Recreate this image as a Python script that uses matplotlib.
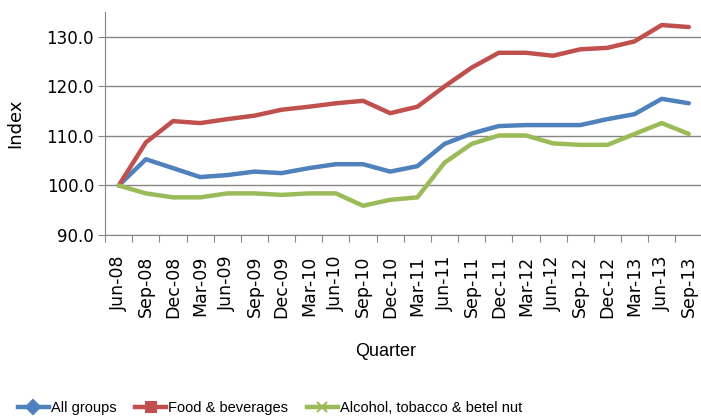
import matplotlib
matplotlib.use('Agg')
import matplotlib.pyplot as plt
from matplotlib.lines import Line2D
from matplotlib.ticker import FixedLocator, NullFormatter
import numpy as np

quarters = ['Jun-08', 'Sep-08', 'Dec-08', 'Mar-09', 'Jun-09', 'Sep-09', 'Dec-09', 'Mar-10',
            'Jun-10', 'Sep-10', 'Dec-10', 'Mar-11', 'Jun-11', 'Sep-11', 'Dec-11', 'Mar-12',
            'Jun-12', 'Sep-12', 'Dec-12', 'Mar-13', 'Jun-13', 'Sep-13']
all_groups = [100.0, 105.3, 103.5, 101.7, 102.1, 102.8, 102.5, 103.5, 104.3, 104.3, 102.8,
              103.9, 108.4, 110.5, 112.0, 112.2, 112.2, 112.2, 113.4, 114.4, 117.5, 116.6]
food_bev = [100.0, 108.7, 113.0, 112.6, 113.4, 114.1, 115.3, 115.9, 116.6, 117.1, 114.6,
            115.9, 120.0, 123.8, 126.8, 126.8, 126.2, 127.5, 127.8, 129.1, 132.4, 132.0]
alcohol = [100.0, 98.4, 97.6, 97.6, 98.4, 98.4, 98.1, 98.4, 98.4, 95.9, 97.1,
           97.6, 104.6, 108.4, 110.1, 110.1, 108.5, 108.2, 108.2, 110.4, 112.6, 110.4]
labels = ['All groups', 'Food & beverages', 'Alcohol, tobacco & betel nut']
colors = ['#4F81BD', '#C0504D', '#9BBB59']
markers = ['D', 's', 'x']

narrow = 'Liberation Sans'

fig = plt.figure(figsize=(7.01, 4.2), dpi=100)
ax = fig.add_axes([0.15, 0.4405, 0.852, 0.5305])

for vals, c in zip([all_groups, food_bev, alcohol], colors):
    ax.plot(quarters, vals, color=c, lw=3.2, solid_capstyle='round', zorder=3)

ax.set_xlim(-0.5, len(quarters) - 0.5)
ax.set_ylim(90, 135)
ax.set_yticks([90, 100, 110, 120, 130])
ax.set_yticklabels(['%.1f' % v for v in [90, 100, 110, 120, 130]], fontsize=12)
ax.yaxis.grid(True, color='#868686', lw=1)
ax.set_axisbelow(True)

ax.xaxis.set_major_locator(FixedLocator(np.arange(-0.5, len(quarters), 1.0)))
ax.xaxis.set_major_formatter(NullFormatter())
ax.xaxis.set_minor_locator(FixedLocator(np.arange(len(quarters))))
ax.set_xticklabels(quarters, minor=True, rotation=90, fontsize=12.5)
ax.tick_params(axis='x', which='major', length=5, color='#868686')
ax.tick_params(axis='x', which='minor', length=0, pad=15)
ax.tick_params(axis='y', length=5, color='#868686', pad=3)

for s in ['top', 'right']:
    ax.spines[s].set_visible(False)
for s in ['left', 'bottom']:
    ax.spines[s].set_color('#868686')

ax.set_ylabel('Index', fontsize=13, labelpad=16)
fig.text(0.55, 1 - 352 / 420, 'Quarter', ha='center', va='center', fontsize=13, family=narrow)

handles = [Line2D([], [], color=c, lw=3.2, marker=m, markersize=7, markeredgewidth=1.5)
           for c, m in zip(colors, markers)]
fig.legend(handles, labels, loc='center', bbox_to_anchor=(270 / 701, 1 - 408 / 420), ncol=3,
           frameon=False, handlelength=2.1, handletextpad=0.15, columnspacing=1.3,
           borderaxespad=0, borderpad=0, prop={'family': narrow, 'size': 10.5})

fig.savefig('out.png', dpi=100)
